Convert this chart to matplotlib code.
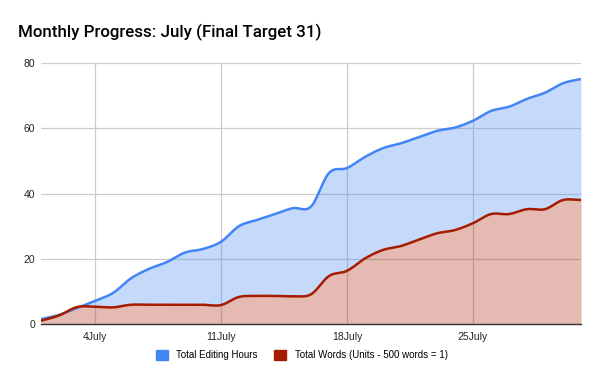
import numpy as np
import matplotlib
matplotlib.use("Agg")
import matplotlib.pyplot as plt
from matplotlib.patches import Patch

days = list(range(1, 32))
editing_hours = [1.5, 2.8, 4.9, 7.1, 9.5, 14.0, 16.9, 19.0, 21.9, 23.0, 25.2, 30.0, 31.9, 33.7, 35.5, 36.0,
                 46.3, 47.8, 51.2, 53.9, 55.4, 57.3, 59.2, 60.2, 62.3, 65.3, 66.6, 69.0, 70.9, 73.8, 75.1]
total_words = [1.0, 2.6, 5.2, 5.3, 5.1, 5.9, 5.9, 5.9, 5.9, 5.9, 5.8, 8.3, 8.6, 8.6, 8.5, 9.1,
               14.7, 16.3, 20.1, 22.7, 23.9, 25.9, 27.8, 28.8, 30.9, 33.7, 33.7, 35.2, 35.2, 38.0, 38.0]
xtick_days = [4, 11, 18, 25]
xtick_labels = ["4July", "11July", "18July", "25July"]
yticks = [0, 20, 40, 60, 80]
series_names = ["Total Editing Hours", "Total Words (Units - 500 words = 1)"]
colors = ["#4285f4", "#a61c00"]

FONT = ["Liberation Sans", "DejaVu Sans"]


def smooth(x, y, n=12):
    # Catmull-Rom curve through the data points (for drawing only)
    x = np.asarray(x, float); y = np.asarray(y, float)
    px = np.concatenate([[2 * x[0] - x[1]], x, [2 * x[-1] - x[-2]]])
    py = np.concatenate([[2 * y[0] - y[1]], y, [2 * y[-1] - y[-2]]])
    xs, ys = [], []
    t = np.linspace(0, 1, n, endpoint=False)
    for i in range(1, len(px) - 2):
        for arr, out in ((px, xs), (py, ys)):
            p0, p1, p2, p3 = arr[i - 1], arr[i], arr[i + 1], arr[i + 2]
            out.extend(0.5 * ((2 * p1) + (-p0 + p2) * t + (2 * p0 - 5 * p1 + 4 * p2 - p3) * t ** 2
                              + (-p0 + 3 * p1 - 3 * p2 + p3) * t ** 3))
    xs.append(x[-1]); ys.append(y[-1])
    return np.array(xs), np.array(ys)


fig = plt.figure(figsize=(6, 3.71), dpi=100)
ax = fig.add_axes([41 / 600, 1 - 324 / 371, 540 / 600, 261 / 371])

bx, by = smooth(days, editing_hours)
rx, ry = smooth(days, total_words)
ax.fill_between(bx, np.minimum(ry, by), by, color=colors[0], alpha=0.3, lw=0, zorder=2)
ax.fill_between(rx, 0, ry, color=colors[1], alpha=0.3, lw=0, zorder=2)
ax.plot(bx, by, color=colors[0], lw=1.8, zorder=3, solid_capstyle="round")
ax.plot(rx, ry, color=colors[1], lw=1.8, zorder=4, solid_capstyle="round")

ax.set_xlim(1, 31)
ax.set_ylim(0, 80)
ax.set_yticks(yticks)
ax.set_xticks(xtick_days)
ax.set_xticklabels(xtick_labels)
ax.grid(True, color="#cccccc", lw=0.9, zorder=0)
ax.set_axisbelow(True)
for s in ["top", "right", "left"]:
    ax.spines[s].set_visible(False)
ax.spines["bottom"].set_color("#333333")
ax.spines["bottom"].set_linewidth(1.0)
ax.spines["bottom"].set_zorder(5)
ax.tick_params(axis="y", length=0, labelsize=7.5, colors="#222222", pad=4)
ax.tick_params(axis="x", length=0, labelsize=7.5, colors="#222222", pad=6)
for lab in ax.get_xticklabels() + ax.get_yticklabels():
    lab.set_family(FONT)

fig.text(18 / 600, 1 - 32 / 371, "Monthly Progress: July (Final Target 31)", family=["Roboto"] + FONT,
         fontsize=12.2, fontweight="medium", color="#000000", va="center", ha="left")

handles = [Patch(facecolor=colors[0], edgecolor=colors[0]), Patch(facecolor=colors[1], edgecolor=colors[1])]
fig.legend(handles, series_names, loc="center", bbox_to_anchor=(0.503, 1 - 355 / 371), ncol=2,
           frameon=False, prop={"family": FONT, "size": 7.0}, handlelength=1.2, handleheight=1.2,
           columnspacing=1.7, handletextpad=0.9)

fig.savefig("out.png", dpi=100)
